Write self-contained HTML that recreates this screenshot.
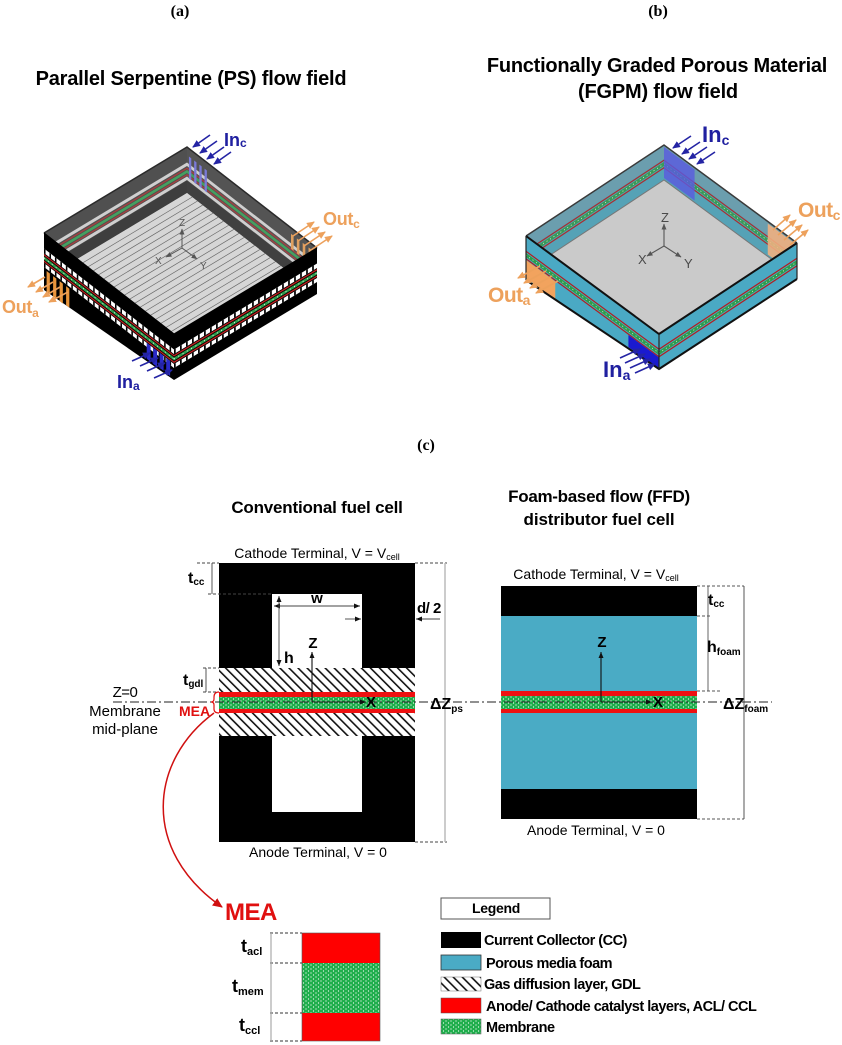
<!DOCTYPE html>
<html><head><meta charset="utf-8"><style>
html,body{margin:0;padding:0;background:#fff;}
svg{display:block;}
text{font-family:"Liberation Sans",Arial,sans-serif;}
.serif{font-family:"Liberation Serif","Times New Roman",serif;}
</style></head><body>
<svg width="842" height="1045" viewBox="0 0 842 1045" xmlns="http://www.w3.org/2000/svg">
<defs>
 <pattern id="hatch" width="6.4" height="6.4" patternUnits="userSpaceOnUse" patternTransform="rotate(-45)">
   <rect width="6.4" height="6.4" fill="#fff"/>
   <rect x="0" y="0" width="1.6" height="6.4" fill="#111"/>
 </pattern>
 <pattern id="dots" width="5" height="4" patternUnits="userSpaceOnUse">
   <rect width="5" height="4" fill="#1fae4c"/>
   <circle cx="1" cy="1" r="0.6" fill="#fff"/>
   <circle cx="3.5" cy="3" r="0.6" fill="#fff"/>
 </pattern>
 <marker id="mb" markerWidth="8" markerHeight="8" refX="7" refY="4" orient="auto" markerUnits="userSpaceOnUse"><path d="M0,0.5 L8,4 L0,7.5 z" fill="#2424a4"/></marker>
 <marker id="mo" markerWidth="8" markerHeight="8" refX="7" refY="4" orient="auto" markerUnits="userSpaceOnUse"><path d="M0,0.5 L8,4 L0,7.5 z" fill="#eda15c"/></marker>
 <marker id="mk" markerWidth="6" markerHeight="6" refX="6" refY="3" orient="auto-start-reverse" markerUnits="userSpaceOnUse"><path d="M0,0.5 L6,3 L0,5.5 z" fill="#111"/></marker>
 <marker id="mg" markerWidth="6" markerHeight="6" refX="5.5" refY="3" orient="auto" markerUnits="userSpaceOnUse"><path d="M0,0.5 L6,3 L0,5.5 z" fill="#555"/></marker>
 <marker id="mr" markerWidth="10" markerHeight="10" refX="9" refY="5" orient="auto" markerUnits="userSpaceOnUse"><path d="M0,0.5 L10,5 L0,9.5 z" fill="#d01010"/></marker>
</defs>

<!-- ================= (a) ================= -->
<text class="serif" x="180" y="16" text-anchor="middle" font-size="16" font-weight="bold">(a)</text>
<text x="191" y="85" text-anchor="middle" font-size="20" font-weight="bold" letter-spacing="-0.2">Parallel Serpentine (PS) flow field</text>

<!-- inner back-left face -->
<g transform="matrix(1.43,-0.86,0,1,44,233)">
  <rect width="100" height="46" fill="#505050"/>
  <rect y="33.5" width="100" height="12.5" fill="#3e3e3e"/>
  <rect y="15.5" width="100" height="3.5" fill="#cfcfcf"/>
  <rect y="20.5" width="100" height="1.5" fill="#a84040"/>
  <rect y="23" width="100" height="3" fill="#45a060"/>
  <rect y="27" width="100" height="1.5" fill="#a84040"/>
  <rect y="29.5" width="100" height="3.5" fill="#cfcfcf"/>
</g>
<!-- inner back-right face -->
<g transform="matrix(1.30,1.01,0,1,187,147)">
  <rect width="100" height="46" fill="#545454"/>
  <rect y="33.5" width="100" height="12.5" fill="#404040"/>
  <rect y="15.5" width="100" height="3.5" fill="#cfcfcf"/>
  <rect y="20.5" width="100" height="1.5" fill="#a84040"/>
  <rect y="23" width="100" height="3" fill="#45a060"/>
  <rect y="27" width="100" height="1.5" fill="#a84040"/>
  <rect y="29.5" width="100" height="3.5" fill="#cfcfcf"/>
  <rect x="1.5" y="8" width="1.8" height="22" fill="#7a7ad8"/>
  <rect x="5.5" y="8" width="1.8" height="22" fill="#7a7ad8"/>
  <rect x="9.5" y="8" width="1.8" height="22" fill="#7a7ad8"/>
  <rect x="13.5" y="8" width="1.8" height="22" fill="#7a7ad8"/>
  <rect x="80" y="6" width="2" height="15" fill="#e0a060"/>
  <rect x="84.5" y="6" width="2" height="15" fill="#e0a060"/>
  <rect x="89" y="6" width="2" height="15" fill="#e0a060"/>
  <rect x="93.5" y="6" width="2" height="15" fill="#e0a060"/>
</g>
<!-- floor -->
<g transform="matrix(-1.43,0.86,1.30,1.01,187,193)">
  <rect width="100" height="100" fill="#d6d6d6"/>
  <path d="M0 4H100M0 8H100M0 12H100M0 16H100M0 20H100M0 24H100M0 28H100M0 32H100M0 36H100M0 40H100M0 44H100M0 48H100M0 52H100M0 56H100M0 60H100M0 64H100M0 68H100M0 72H100M0 76H100M0 80H100M0 84H100M0 88H100M0 92H100M0 96H100" stroke="#6a6a6a" stroke-width="0.45"/>
</g>
<!-- side faces -->
<polygon points="44,233 174,334 174,380 44,290" fill="#000"/>
<polygon points="174,334 317,248 317,294 174,380" fill="#000"/>
<g transform="matrix(1.30,1.01,0,1,44,233)">
  <rect y="15.5" width="100" height="4.5" fill="#fff"/>
  <path d="M0 17.75H100" stroke="#000" stroke-width="4.5" stroke-dasharray="1.2 3"/>
  <rect y="21" width="100" height="1.5" fill="#c42020"/>
  <rect y="23.5" width="100" height="3" fill="#2e9c4c"/>
  <path d="M0 25H100" stroke="#fff" stroke-width="1" stroke-dasharray="0.6 2.4"/>
  <rect y="27.5" width="100" height="1.5" fill="#c42020"/>
  <rect y="30" width="100" height="4" fill="#fff"/>
  <path d="M0 32H100" stroke="#000" stroke-width="4" stroke-dasharray="1.2 3"/>
  <rect x="2" y="36" width="2.5" height="20" fill="#e8943a"/>
  <rect x="7" y="36" width="2.5" height="20" fill="#e8943a"/>
  <rect x="12" y="36" width="2.5" height="20" fill="#e8943a"/>
  <rect x="17" y="36" width="2.5" height="19" fill="#e8943a"/>
  <rect x="79" y="30" width="3" height="16" fill="#2a2ac8"/>
  <rect x="84" y="30" width="3" height="16" fill="#2a2ac8"/>
  <rect x="89" y="30" width="3" height="15" fill="#2a2ac8"/>
  <rect x="94" y="30" width="3" height="15" fill="#2a2ac8"/>
</g>
<g transform="matrix(1.43,-0.86,0,1,174,334)">
  <rect y="15.5" width="100" height="4.5" fill="#fff"/>
  <path d="M0 17.75H100" stroke="#000" stroke-width="4.5" stroke-dasharray="1.2 3"/>
  <rect y="21" width="100" height="1.5" fill="#c42020"/>
  <rect y="23.5" width="100" height="3" fill="#2e9c4c"/>
  <path d="M0 25H100" stroke="#fff" stroke-width="1" stroke-dasharray="0.6 2.4"/>
  <rect y="27.5" width="100" height="1.5" fill="#c42020"/>
  <rect y="30" width="100" height="4" fill="#fff"/>
  <path d="M0 32H100" stroke="#000" stroke-width="4" stroke-dasharray="1.2 3"/>
</g>
<path d="M44 233 L187 147 L317 248" fill="none" stroke="#2a2a2a" stroke-width="1.5"/>
<path d="M44 233 L174 334 L317 248" fill="none" stroke="#000" stroke-width="1.2"/>
<!-- axes a -->
<g stroke="#555" stroke-width="1" fill="none">
  <line x1="182" y1="248" x2="182" y2="229" marker-end="url(#mg)"/>
  <line x1="182" y1="248" x2="166" y2="257" marker-end="url(#mg)"/>
  <line x1="182" y1="248" x2="197" y2="259" marker-end="url(#mg)"/>
</g>
<text x="179" y="226" font-size="10" fill="#555">Z</text>
<text x="155" y="264" font-size="10" fill="#555">X</text>
<text x="200" y="269" font-size="10" fill="#555">Y</text>
<!-- arrows a -->
<g stroke="#2424a4" stroke-width="1.6">
  <line x1="210" y1="135" x2="193" y2="147" marker-end="url(#mb)"/>
  <line x1="217" y1="141" x2="200" y2="153" marker-end="url(#mb)"/>
  <line x1="224" y1="147" x2="207" y2="159" marker-end="url(#mb)"/>
  <line x1="231" y1="152" x2="214" y2="164" marker-end="url(#mb)"/>
  <line x1="132" y1="361" x2="150" y2="353" marker-end="url(#mb)"/>
  <line x1="140" y1="366" x2="158" y2="358" marker-end="url(#mb)"/>
  <line x1="147" y1="371" x2="165" y2="363" marker-end="url(#mb)"/>
  <line x1="154" y1="378" x2="172" y2="370" marker-end="url(#mb)"/>
</g>
<g stroke="#eda15c" stroke-width="1.6">
  <line x1="293" y1="236" x2="314" y2="222" marker-end="url(#mo)"/>
  <line x1="298" y1="241" x2="319" y2="227" marker-end="url(#mo)"/>
  <line x1="304" y1="246" x2="325" y2="232" marker-end="url(#mo)"/>
  <line x1="311" y1="250" x2="332" y2="236" marker-end="url(#mo)"/>
  <line x1="45" y1="277" x2="28" y2="287" marker-end="url(#mo)"/>
  <line x1="53" y1="282" x2="36" y2="292" marker-end="url(#mo)"/>
  <line x1="60" y1="287" x2="43" y2="297" marker-end="url(#mo)"/>
  <line x1="68" y1="292" x2="49" y2="302" marker-end="url(#mo)"/>
</g>
<text x="224" y="146" font-size="18" font-weight="bold" fill="#2020a0">In<tspan font-size="12" dy="1">c</tspan></text>
<text x="117" y="388" font-size="18" font-weight="bold" fill="#2020a0">In<tspan font-size="12" dy="2">a</tspan></text>
<text x="323" y="225" font-size="18" font-weight="bold" fill="#eda15c" letter-spacing="-0.3">Out<tspan font-size="12" dy="3">c</tspan></text>
<text x="2" y="313" font-size="18" font-weight="bold" fill="#eda15c" letter-spacing="-0.3">Out<tspan font-size="12" dy="4">a</tspan></text>

<!-- ================= (b) ================= -->
<text class="serif" x="658" y="16" text-anchor="middle" font-size="16" font-weight="bold">(b)</text>
<text x="657" y="72" text-anchor="middle" font-size="20" font-weight="bold" letter-spacing="-0.25">Functionally Graded Porous Material</text>
<text x="658" y="98" text-anchor="middle" font-size="20" font-weight="bold" letter-spacing="-0.2">(FGPM) flow field</text>

<g transform="matrix(1.38,-0.91,0,1,526,236)">
  <rect width="100" height="35" fill="#55a2b6"/>
  <rect width="100" height="14" fill="#6b9eae"/>
  <rect y="14.5" width="100" height="1.5" fill="#a83030"/>
  <rect y="17" width="100" height="4" fill="#3a9a58"/>
  <path d="M0 19H100" stroke="#fff" stroke-width="1" stroke-dasharray="0.5 2"/>
  <rect y="22" width="100" height="1.5" fill="#a83030"/>
</g>
<g transform="matrix(1.33,0.98,0,1,664,145)">
  <rect width="100" height="35" fill="#55a2b6"/>
  <rect width="100" height="14" fill="#6b9eae"/>
  <rect y="14.5" width="100" height="1.5" fill="#a83030"/>
  <rect y="17" width="100" height="4" fill="#3a9a58"/>
  <path d="M0 19H100" stroke="#fff" stroke-width="1" stroke-dasharray="0.5 2"/>
  <rect y="22" width="100" height="1.5" fill="#a83030"/>
  <rect x="0" y="2" width="23" height="31" fill="#5a5ae0" opacity="0.8"/>
  <rect x="78" y="2" width="22" height="31" fill="#f2b080" opacity="0.88"/>
</g>
<polygon points="664,180 526,271 659,369 797,278" fill="#cacaca"/>
<path d="M526 271 L664 180 L797 278" fill="none" stroke="#777" stroke-width="1"/>
<polygon points="526,236 659,334 659,369 526,280" fill="#4aa9c4"/>
<polygon points="659,334 797,243 797,279 659,369" fill="#4aa9c4"/>
<g transform="matrix(1.33,0.98,0,1,526,236)">
  <rect y="14.5" width="100" height="1.5" fill="#b02020"/>
  <rect y="17" width="100" height="4" fill="#2e9c4c"/>
  <path d="M0 19H100" stroke="#fff" stroke-width="1" stroke-dasharray="0.5 2"/>
  <rect y="22" width="100" height="1.5" fill="#b02020"/>
  <rect x="0" y="24" width="22" height="18" fill="#f2a35e"/>
  <rect x="77" y="23.5" width="23" height="12" fill="#1a1ad0"/>
</g>
<g transform="matrix(1.38,-0.91,0,1,659,334)">
  <rect y="14.5" width="100" height="1.5" fill="#b02020"/>
  <rect y="17" width="100" height="4" fill="#2e9c4c"/>
  <path d="M0 19H100" stroke="#fff" stroke-width="1" stroke-dasharray="0.5 2"/>
  <rect y="22" width="100" height="1.5" fill="#b02020"/>
</g>
<path d="M526 236 L664 145 L797 243" fill="none" stroke="#3a3a3a" stroke-width="1.5"/>
<path d="M526 236 L659 334 L797 243" fill="none" stroke="#111" stroke-width="2"/>
<path d="M526 280 L659 369 L797 279" fill="none" stroke="#111" stroke-width="2"/>
<path d="M526 236 V280 M659 334 V369 M797 243 V279" stroke="#222" stroke-width="1.2"/>
<g stroke="#555" stroke-width="1.1" fill="none">
  <line x1="664" y1="246" x2="664" y2="224" marker-end="url(#mg)"/>
  <line x1="664" y1="246" x2="647" y2="256" marker-end="url(#mg)"/>
  <line x1="664" y1="246" x2="681" y2="257" marker-end="url(#mg)"/>
</g>
<text x="661" y="222" font-size="13" fill="#4a4a4a">Z</text>
<text x="638" y="264" font-size="13" fill="#4a4a4a">X</text>
<text x="684" y="268" font-size="13" fill="#4a4a4a">Y</text>
<g stroke="#2424a4" stroke-width="1.6">
  <line x1="691" y1="136" x2="673" y2="148" marker-end="url(#mb)"/>
  <line x1="700" y1="142" x2="682" y2="154" marker-end="url(#mb)"/>
  <line x1="707" y1="147" x2="689" y2="159" marker-end="url(#mb)"/>
  <line x1="715" y1="152" x2="697" y2="164" marker-end="url(#mb)"/>
  <line x1="620" y1="358" x2="640" y2="349" marker-end="url(#mb)"/>
  <line x1="625" y1="363" x2="645" y2="354" marker-end="url(#mb)"/>
  <line x1="630" y1="368" x2="650" y2="359" marker-end="url(#mb)"/>
  <line x1="635" y1="373" x2="655" y2="364" marker-end="url(#mb)"/>
</g>
<g stroke="#eda15c" stroke-width="1.6">
  <line x1="773" y1="230" x2="790" y2="215" marker-end="url(#mo)"/>
  <line x1="778" y1="235" x2="796" y2="220" marker-end="url(#mo)"/>
  <line x1="784" y1="240" x2="802" y2="225" marker-end="url(#mo)"/>
  <line x1="790" y1="245" x2="808" y2="230" marker-end="url(#mo)"/>
  <line x1="540" y1="266" x2="518" y2="278" marker-end="url(#mo)"/>
  <line x1="546" y1="271" x2="524" y2="283" marker-end="url(#mo)"/>
  <line x1="552" y1="276" x2="530" y2="288" marker-end="url(#mo)"/>
  <line x1="558" y1="281" x2="536" y2="293" marker-end="url(#mo)"/>
</g>
<text x="702" y="142" font-size="22" font-weight="bold" fill="#2020a0">In<tspan font-size="14" dy="3">c</tspan></text>
<text x="603" y="377" font-size="22" font-weight="bold" fill="#2020a0">In<tspan font-size="14" dy="3">a</tspan></text>
<text x="798" y="217" font-size="21" font-weight="bold" fill="#eda15c" letter-spacing="-0.5">Out<tspan font-size="14" dy="3">c</tspan></text>
<text x="488" y="302" font-size="21" font-weight="bold" fill="#eda15c" letter-spacing="-0.5">Out<tspan font-size="14" dy="3">a</tspan></text>

<!-- ================= (c) ================= -->
<text class="serif" x="426" y="450" text-anchor="middle" font-size="16" font-weight="bold">(c)</text>
<text x="317" y="513" text-anchor="middle" font-size="17" font-weight="bold" letter-spacing="-0.2">Conventional fuel cell</text>
<text x="599" y="502" text-anchor="middle" font-size="17" font-weight="bold" letter-spacing="-0.3">Foam-based flow (FFD)</text>
<text x="599" y="525" text-anchor="middle" font-size="17" font-weight="bold" letter-spacing="-0.1">distributor fuel cell</text>

<!-- conventional cell -->
<text x="317" y="558" text-anchor="middle" font-size="14">Cathode Terminal, V = V<tspan font-size="9" dy="2">cell</tspan></text>
<rect x="219" y="563" width="196" height="279" fill="#000"/>
<rect x="272" y="594" width="90" height="74" fill="#fff"/>
<rect x="272" y="736" width="90" height="76" fill="#fff"/>
<rect x="219" y="668" width="196" height="24" fill="url(#hatch)"/>
<rect x="219" y="692" width="196" height="5" fill="#ee1111"/>
<rect x="219" y="697" width="196" height="12" fill="url(#dots)"/>
<rect x="219" y="709" width="196" height="4" fill="#ee1111"/>
<rect x="219" y="713" width="196" height="23" fill="url(#hatch)"/>
<text x="318" y="857" text-anchor="middle" font-size="14">Anode Terminal, V = 0</text>

<!-- foam cell -->
<text x="596" y="579" text-anchor="middle" font-size="14">Cathode Terminal, V = V<tspan font-size="9" dy="2">cell</tspan></text>
<rect x="501" y="586" width="196" height="30" fill="#000"/>
<rect x="501" y="616" width="196" height="75" fill="#4aabc5"/>
<rect x="501" y="691" width="196" height="5" fill="#ee1111"/>
<rect x="501" y="696" width="196" height="13" fill="url(#dots)"/>
<rect x="501" y="709" width="196" height="4" fill="#ee1111"/>
<rect x="501" y="713" width="196" height="76" fill="#4aabc5"/>
<rect x="501" y="789" width="196" height="30" fill="#000"/>
<text x="596" y="835" text-anchor="middle" font-size="14">Anode Terminal, V = 0</text>

<!-- dash-dot midplane -->
<line x1="113" y1="702" x2="772" y2="702" stroke="#222" stroke-width="1" stroke-dasharray="9 3 2 3"/>

<!-- conventional dims -->
<g stroke="#444" stroke-width="0.9" fill="none">
  <path d="M197 563 H219 M415 563 H447 M208 594 H272 M203 668 H219 M203 692 H219 M415 842 H447" stroke-dasharray="3 2"/>
  <line x1="212" y1="563" x2="212" y2="594"/>
  <line x1="206" y1="668" x2="206" y2="692"/>
  <line x1="274" y1="606" x2="360" y2="606" marker-start="url(#mk)" marker-end="url(#mk)"/>
  <line x1="279" y1="596" x2="279" y2="666" marker-start="url(#mk)" marker-end="url(#mk)"/>
  <line x1="345" y1="619" x2="361" y2="619" marker-end="url(#mk)"/>
  <line x1="440" y1="619" x2="416" y2="619" marker-end="url(#mk)"/>
</g>
<line x1="445" y1="563" x2="445" y2="842" stroke="#bbb" stroke-width="1.5"/>
<g stroke="#111" stroke-width="1.1" fill="none">
  <line x1="312" y1="702" x2="312" y2="652" marker-end="url(#mk)"/>
  <line x1="312" y1="702" x2="366" y2="702" marker-end="url(#mk)"/>
  <line x1="601" y1="702" x2="601" y2="652" marker-end="url(#mk)"/>
  <line x1="601" y1="702" x2="652" y2="702" marker-end="url(#mk)"/>
</g>
<text x="188" y="583" font-size="16" font-weight="bold">t<tspan font-size="10" dy="2">cc</tspan></text>
<text x="317" y="603" text-anchor="middle" font-size="15" font-weight="bold">w</text>
<text x="417" y="613" font-size="15" font-weight="bold" letter-spacing="-0.5">d/ 2</text>
<text x="284" y="663" font-size="16" font-weight="bold">h</text>
<text x="313" y="648" text-anchor="middle" font-size="15" font-weight="bold">Z</text>
<text x="371" y="707" text-anchor="middle" font-size="15" font-weight="bold">X</text>
<text x="183" y="685" font-size="16" font-weight="bold">t<tspan font-size="10" dy="2">gdl</tspan></text>
<text x="430" y="709" font-size="16" font-weight="bold">ΔZ<tspan font-size="10" dy="3">ps</tspan></text>
<text x="125" y="697" text-anchor="middle" font-size="15" letter-spacing="-0.5">Z=0</text>
<text x="125" y="716" text-anchor="middle" font-size="15">Membrane</text>
<text x="125" y="734" text-anchor="middle" font-size="15">mid-plane</text>
<text x="179" y="716" font-size="14" font-weight="bold" fill="#e01010">MEA</text>
<path d="M219 692 Q214 692 214 697 L214 699 Q214 702 211 702 Q214 702 214 705 L214 709 Q214 713 219 713" fill="none" stroke="#e01010" stroke-width="1.2"/>
<path d="M214 713 C150 760, 140 850, 222 907" fill="none" stroke="#d01010" stroke-width="1.5" marker-end="url(#mr)"/>

<!-- foam dims -->
<g stroke="#555" stroke-width="0.9" fill="none">
  <path d="M697 586 H744 M697 616 H710 M697 691 H722 M697 819 H744" stroke-dasharray="3 2"/>
  <line x1="708" y1="586" x2="708" y2="691"/>
  <line x1="744" y1="586" x2="744" y2="819" stroke="#444"/>
</g>
<text x="708" y="605" font-size="16" font-weight="bold">t<tspan font-size="10" dy="2">cc</tspan></text>
<text x="707" y="652" font-size="16" font-weight="bold">h<tspan font-size="10" dy="3">foam</tspan></text>
<text x="602" y="647" text-anchor="middle" font-size="15" font-weight="bold">Z</text>
<text x="658" y="707" text-anchor="middle" font-size="15" font-weight="bold">X</text>
<text x="723" y="709" font-size="16" font-weight="bold">ΔZ<tspan font-size="10" dy="3">foam</tspan></text>

<!-- MEA detail -->
<text x="225" y="920" font-size="24" font-weight="bold" fill="#e01010" letter-spacing="-0.5">MEA</text>
<rect x="302" y="933" width="78" height="30" fill="#ff0000"/>
<rect x="302" y="963" width="78" height="50" fill="url(#dots)"/>
<rect x="302" y="1013" width="78" height="28" fill="#ff0000"/>
<rect x="302" y="933" width="78" height="108" fill="none" stroke="#555" stroke-width="0.6"/>
<path d="M270 933 H302 M270 963 H302 M270 1013 H302 M270 1041 H302" stroke="#333" stroke-width="0.9" stroke-dasharray="3 2"/>
<line x1="271" y1="933" x2="271" y2="1041" stroke="#aaa" stroke-width="1.2"/>
<text x="241" y="952" font-size="18" font-weight="bold">t<tspan font-size="11" dy="3">acl</tspan></text>
<text x="232" y="992" font-size="18" font-weight="bold">t<tspan font-size="11" dy="3">mem</tspan></text>
<text x="239" y="1031" font-size="18" font-weight="bold">t<tspan font-size="11" dy="3">ccl</tspan></text>

<!-- Legend -->
<rect x="441" y="898" width="109" height="21" fill="#fff" stroke="#555" stroke-width="1"/>
<text x="496" y="913" text-anchor="middle" font-size="14" font-weight="bold" letter-spacing="-0.3">Legend</text>
<rect x="441" y="932" width="40" height="16" fill="#000"/>
<rect x="441" y="955" width="40" height="15" fill="#4aabc5" stroke="#333" stroke-width="0.8"/>
<rect x="441" y="977" width="40" height="14" fill="url(#hatch)" stroke="#777" stroke-width="0.5"/>
<rect x="441" y="998" width="40" height="15" fill="#ff0000" stroke="#555" stroke-width="0.5"/>
<rect x="441" y="1019" width="40" height="15" fill="url(#dots)" stroke="#555" stroke-width="0.5"/>
<g font-size="14.5" font-weight="bold" letter-spacing="-0.5">
  <text x="484" y="945">Current Collector (CC)</text>
  <text x="486" y="968">Porous media foam</text>
  <text x="484" y="989">Gas diffusion layer, GDL</text>
  <text x="486" y="1011">Anode/ Cathode catalyst layers, ACL/ CCL</text>
  <text x="486" y="1032">Membrane</text>
</g>
</svg>
</body></html>
